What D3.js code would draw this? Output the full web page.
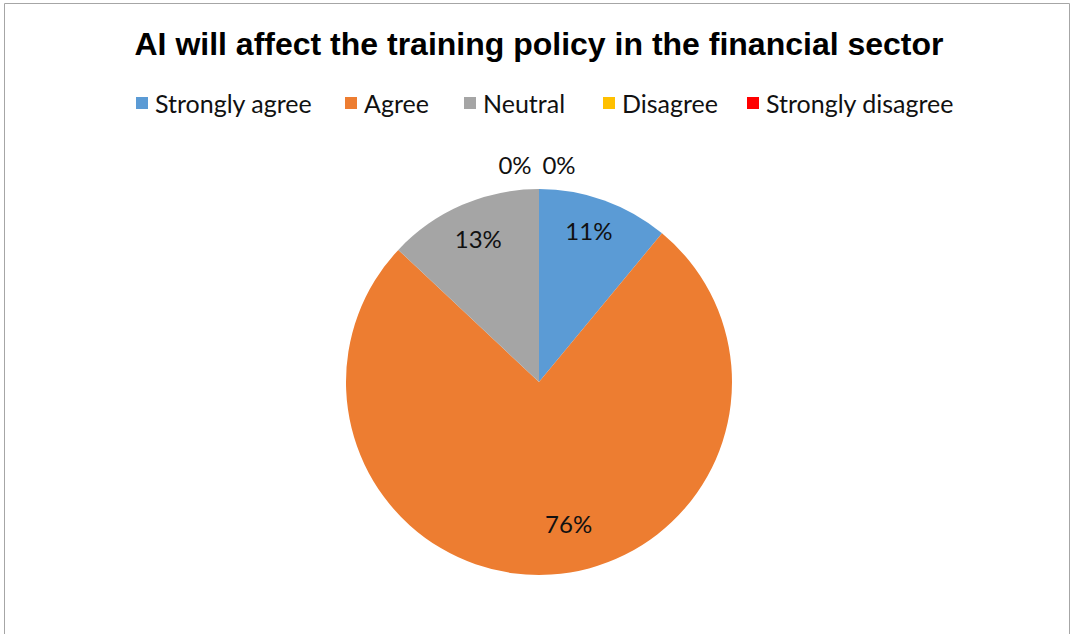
<!DOCTYPE html>
<html>
<head>
<meta charset="utf-8">
<script src="https://cdn.jsdelivr.net/npm/d3@7"></script>
<style>
  body { margin: 0; background: #fff; }
  svg { display: block; }
</style>
</head>
<body>
<div id="chart"></div>
<script>
// survey answers, clockwise from 12 o'clock
var categories = ["Strongly agree", "Agree", "Neutral", "Disagree", "Strongly disagree"];
var values = [11, 76, 13, 0, 0];
var colors = ["#5b9bd5", "#ed7d31", "#a5a5a5", "#ffc000", "#ff0000"];
var title = "AI will affect the training policy in the financial sector";

var width = 1074,
    height = 634,
    cx = 539,
    cy = 382,
    radius = 193;

var labelFont = "Lato, 'Open Sans', sans-serif";

var svg = d3.select("#chart").append("svg")
    .attr("width", width)
    .attr("height", height);

// chart area border (bottom edge is cut off in the picture)
svg.append("path")
    .attr("d", "M4.5," + height + "V3.5H1069.5V" + height)
    .attr("fill", "none")
    .attr("stroke", "#a6a6a6")
    .attr("stroke-width", 1);

svg.append("text")
    .attr("x", cx)
    .attr("y", 55)
    .attr("text-anchor", "middle")
    .style("font-family", "'Liberation Sans', Arial, sans-serif")
    .style("font-weight", "bold")
    .style("font-size", "32px")
    .text(title);

// legend
var legendX = [136, 345, 464, 603, 747];
var legend = svg.selectAll(".legend")
    .data(categories)
    .enter()
    .append("g")
    .attr("class", "legend")
    .attr("transform", (d, i) => "translate(" + legendX[i] + ",97)");

legend.append("rect")
    .attr("width", 12)
    .attr("height", 12)
    .attr("fill", (d, i) => colors[i]);

legend.append("text")
    .attr("x", 19)
    .attr("y", 15.5)
    .style("font-family", labelFont)
    .style("font-size", "25px")
    .attr("fill", "#111")
    .text(d => d);

// pie
var pie = d3.pie().sort(null).value(d => d);
var arcs = pie(values);
var arc = d3.arc().innerRadius(0).outerRadius(radius);
var labelArc = d3.arc().innerRadius(153).outerRadius(153);

var g = svg.append("g").attr("transform", "translate(" + cx + "," + cy + ")");

g.selectAll("path.slice")
    .data(arcs)
    .enter()
    .append("path")
    .attr("class", "slice")
    .attr("d", arc)
    .attr("fill", (d, i) => colors[i]);

// data labels; zero slices sit outside the top edge, others nudged like excel's best fit
var nudge = [[-2, -6], [20, -10], [0, -2], [-24, 0], [20, 0]];
g.selectAll("text.lbl")
    .data(arcs)
    .enter()
    .append("text")
    .attr("class", "lbl")
    .attr("text-anchor", "middle")
    .attr("dy", "0.35em")
    .attr("transform", function (d, i) {
        var c = d.value === 0 ? [0, -radius - 23] : labelArc.centroid(d);
        return "translate(" + (c[0] + nudge[i][0]) + "," + (c[1] + nudge[i][1]) + ")";
    })
    .style("font-family", labelFont)
    .style("font-size", "24px")
    .attr("fill", "#111")
    .text(d => d.value + "%");
</script>
</body>
</html>
